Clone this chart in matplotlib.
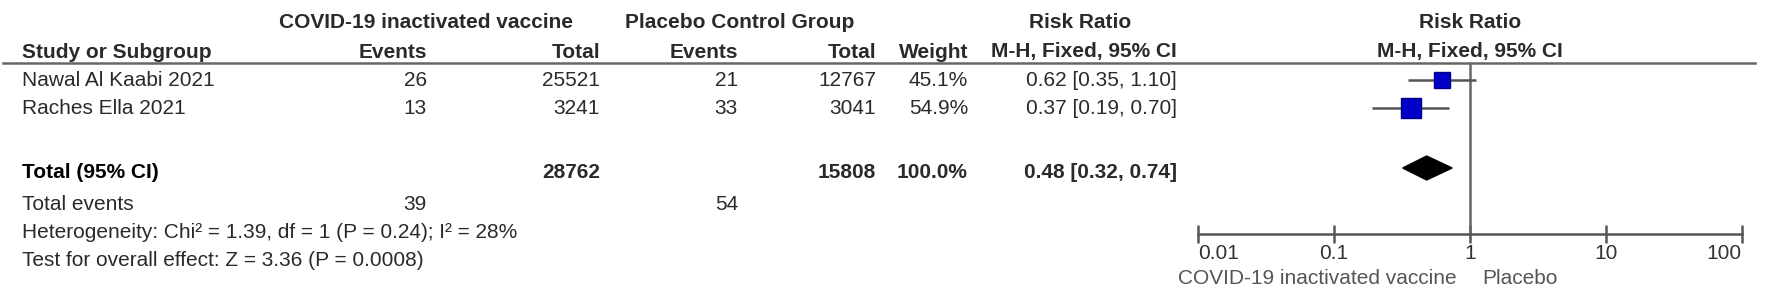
import matplotlib.pyplot as plt
import numpy as np

plt.rcParams['font.family'] = ['Liberation Sans', 'DejaVu Sans']

# study data
studies = ['Nawal Al Kaabi 2021', 'Raches Ella 2021']
vac_events = [26, 13]
vac_total = [25521, 3241]
pla_events = [21, 33]
pla_total = [12767, 3041]
weights = [45.1, 54.9]
rr = [0.62, 0.37]
rr_lo = [0.35, 0.19]
rr_hi = [1.10, 0.70]

# pooled estimate
pooled_rr = 0.48
pooled_lo = 0.32
pooled_hi = 0.74
heterogeneity = 'Heterogeneity: Chi\u00b2 = 1.39, df = 1 (P = 0.24); I\u00b2 = 28%'
overall = 'Test for overall effect: Z = 3.36 (P = 0.0008)'
axis_ticks = [0.01, 0.1, 1, 10, 100]
axis_labels = ['0.01', '0.1', '1', '10', '100']

W, H = 1772, 293
fig = plt.figure(figsize=(W / 100, H / 100), dpi=100)
ax = fig.add_axes([0, 0, 1, 1])
ax.set_xlim(0, W)
ax.set_ylim(H, 0)
ax.axis('off')

fs = 15
txt = '#2a2a2a'

# column right edges (pixels)
c_study = 22
c_ev1, c_tot1, c_ev2, c_tot2, c_w, c_ci = 427, 600, 738, 876, 968, 1177
row_y = [80, 108]
y_total, y_events, y_het, y_test = 173, 205, 233, 260

# headers
ax.text(426, 22, 'COVID-19 inactivated vaccine', ha='center', va='center', fontsize=fs, fontweight='bold', color=txt)
ax.text(740, 22, 'Placebo Control Group', ha='center', va='center', fontsize=fs, fontweight='bold', color=txt)
ax.text(1080, 22, 'Risk Ratio', ha='center', va='center', fontsize=fs, fontweight='bold', color=txt)
ax.text(1470, 22, 'Risk Ratio', ha='center', va='center', fontsize=fs, fontweight='bold', color=txt)
y_h2 = 52
ax.text(c_study, y_h2, 'Study or Subgroup', ha='left', va='center', fontsize=fs, fontweight='bold', color=txt)
for x, s in [(c_ev1, 'Events'), (c_tot1, 'Total'), (c_ev2, 'Events'), (c_tot2, 'Total'),
             (c_w, 'Weight'), (c_ci, 'M-H, Fixed, 95% CI')]:
    ax.text(x, y_h2, s, ha='right', va='center', fontsize=fs, fontweight='bold', color=txt)
ax.text(1470, y_h2, 'M-H, Fixed, 95% CI', ha='center', va='center', fontsize=fs, fontweight='bold', color=txt)
ax.plot([3, 1755], [63, 63], color='#666666', lw=1.8)

# study rows
for i, y in enumerate(row_y):
    ax.text(c_study, y, studies[i], ha='left', va='center', fontsize=fs, color=txt)
    ax.text(c_ev1, y, str(vac_events[i]), ha='right', va='center', fontsize=fs, color=txt)
    ax.text(c_tot1, y, str(vac_total[i]), ha='right', va='center', fontsize=fs, color=txt)
    ax.text(c_ev2, y, str(pla_events[i]), ha='right', va='center', fontsize=fs, color=txt)
    ax.text(c_tot2, y, str(pla_total[i]), ha='right', va='center', fontsize=fs, color=txt)
    ax.text(c_w, y, f'{weights[i]:.1f}%', ha='right', va='center', fontsize=fs, color=txt)
    ax.text(c_ci, y, f'{rr[i]:.2f} [{rr_lo[i]:.2f}, {rr_hi[i]:.2f}]', ha='right', va='center', fontsize=fs, color=txt)

# total rows
ax.text(c_study, y_total, 'Total (95% CI)', ha='left', va='center', fontsize=fs, fontweight='bold', color='black')
ax.text(c_tot1, y_total, str(sum(vac_total)), ha='right', va='center', fontsize=fs, fontweight='bold', color=txt)
ax.text(c_tot2, y_total, str(sum(pla_total)), ha='right', va='center', fontsize=fs, fontweight='bold', color=txt)
ax.text(c_w, y_total, f'{sum(weights):.1f}%', ha='right', va='center', fontsize=fs, fontweight='bold', color=txt)
ax.text(c_ci, y_total, f'{pooled_rr:.2f} [{pooled_lo:.2f}, {pooled_hi:.2f}]', ha='right', va='center',
        fontsize=fs, fontweight='bold', color=txt)
ax.text(c_study, y_events, 'Total events', ha='left', va='center', fontsize=fs, color=txt)
ax.text(c_ev1, y_events, str(sum(vac_events)), ha='right', va='center', fontsize=fs, color=txt)
ax.text(c_ev2, y_events, str(sum(pla_events)), ha='right', va='center', fontsize=fs, color=txt)
ax.text(c_study, y_het, heterogeneity, ha='left', va='center', fontsize=fs, color=txt)
ax.text(c_study, y_test, overall, ha='left', va='center', fontsize=fs, color=txt)

# forest plot panel
x0, x1, y_axis, y_top = 1198, 1742, 234, 63
fax = fig.add_axes([x0 / W, 1 - y_axis / H, (x1 - x0) / W, (y_axis - y_top) / H])
fax.patch.set_alpha(0)
fax.set_xscale('log')
fax.set_xlim(0.01, 100)
fax.set_ylim(y_axis, y_top)
for s in ['top', 'left', 'right']:
    fax.spines[s].set_visible(False)
fax.spines['bottom'].set_color('#555555')
fax.spines['bottom'].set_linewidth(1.8)
fax.set_yticks([])
fax.set_xticks(axis_ticks)
fax.set_xticklabels(axis_labels)
fax.minorticks_off()
fax.tick_params(axis='x', direction='inout', length=13, width=1.8, color='#555555',
                labelsize=fs, labelcolor='#333333', pad=1)
labels = fax.get_xticklabels()
labels[0].set_ha('left')
labels[-1].set_ha('right')
fax.axvline(1, color='#666666', lw=1.8)

for i, y in enumerate(row_y):
    fax.hlines(y, rr_lo[i], rr_hi[i], color='#555555', lw=1.8)
    side = weights[i] * 0.37
    fax.plot(rr[i], y, marker='s', ms=side * 0.72, mfc='#0000c8', mec='#00008a', mew=1)

fax.fill([pooled_lo, pooled_rr, pooled_hi, pooled_rr],
         [y_total - 5, y_total - 17, y_total - 5, y_total + 7], color='black')

ax.text(1457, 278, 'COVID-19 inactivated vaccine', ha='right', va='center', fontsize=fs, color='#555555')
ax.text(1482, 278, 'Placebo', ha='left', va='center', fontsize=fs, color='#555555')

fig.savefig('out.png', dpi=100)
